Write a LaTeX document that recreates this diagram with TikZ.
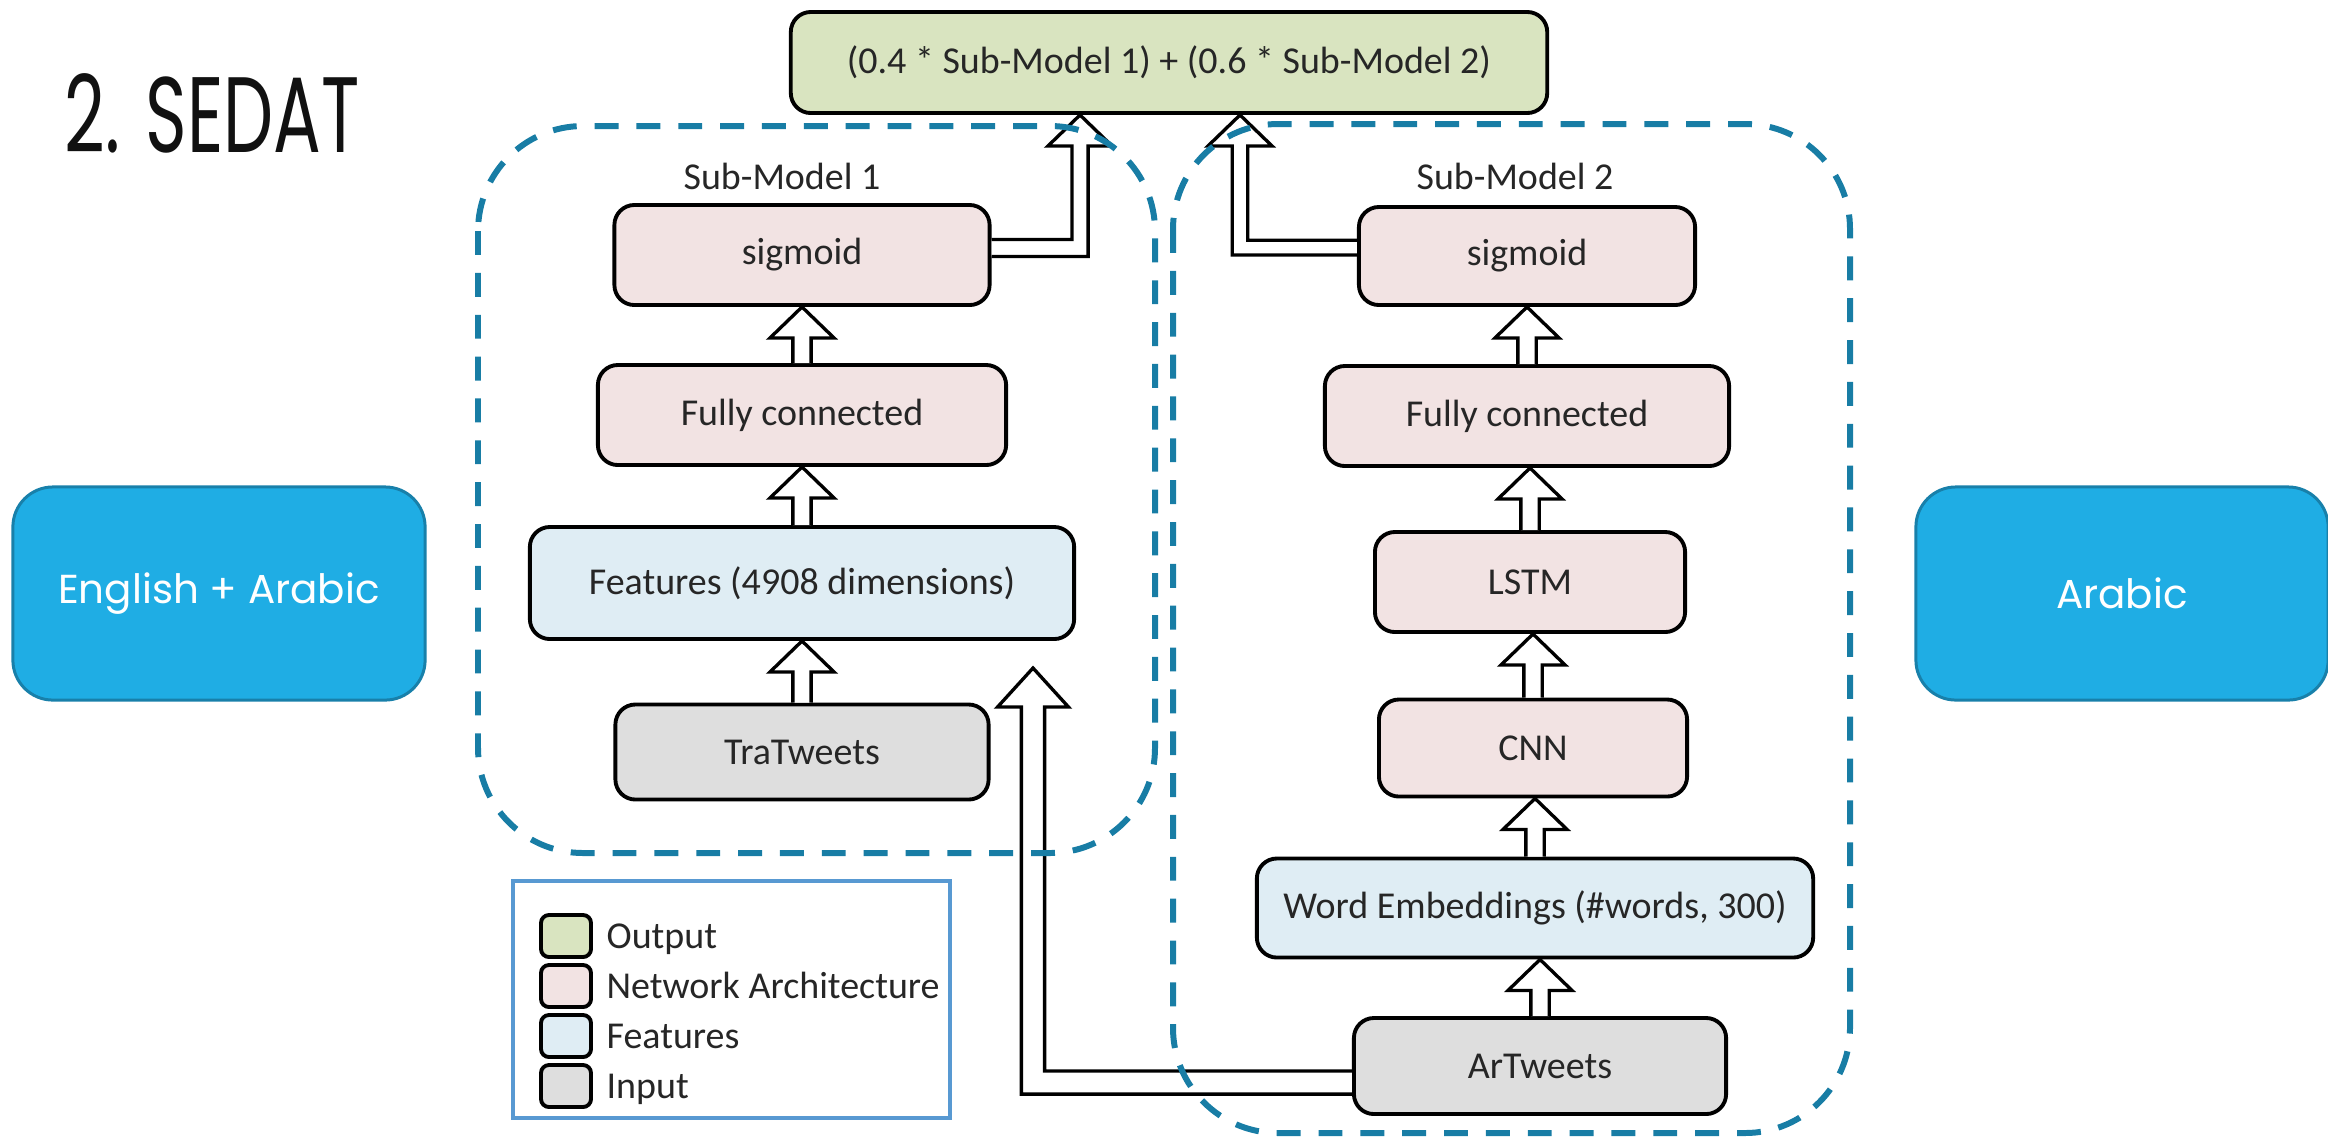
\documentclass[tikz,border=0pt]{standalone}
\usepackage{fontspec}
\setmainfont{Carlito}
\newfontfamily\slidefont{Poppins}
\usetikzlibrary{calc}
\definecolor{outgreen}{RGB}{217, 228, 192}
\definecolor{netpink}{RGB}{242, 227, 227}
\definecolor{featblue}{RGB}{223, 237, 244}
\definecolor{ingray}{RGB}{222, 222, 222}
\definecolor{dashblue}{RGB}{24, 125, 165}
\definecolor{slideblue}{RGB}{31, 173, 228}
\definecolor{slideedge}{RGB}{24, 128, 170}
\definecolor{legendblue}{RGB}{88, 153, 210}
\definecolor{inkgray}{RGB}{38, 38, 38}

\tikzset{
  block/.style={draw=black, line width=1.1pt, rounded corners=0.2cm, inner sep=0pt,
                text=inkgray, font=\fontsize{10.8}{13}\selectfont},
  hollow/.style={draw=black, fill=white, line width=0.95pt, line join=miter},
  subframe/.style={draw=dashblue, line width=1.7pt, dash pattern=on 6.8pt off 5.1pt,
                   rounded corners=1.05cm},
  langbox/.style={draw=slideedge, fill=slideblue, line width=0.85pt, rounded corners=0.4cm,
                  inner sep=0pt, text=white, font=\slidefont\fontsize{11.5}{14}\selectfont,
                  minimum width=4.12cm, minimum height=2.13cm},
  keybox/.style={draw=black, line width=1.1pt, rounded corners=0.08cm, inner sep=0pt,
                 minimum width=0.5cm, minimum height=0.42cm},
}

% hollow block arrow from the top of #1 up to the bottom of #2
\newcommand{\uparr}[2]{%
  \filldraw[hollow] let \p1=(#1.north), \p2=(#2.south) in
    (\x1-2.6pt,\y1) -- (\x1-2.6pt,\y2-8.8pt) -- (\x1-9.1pt,\y2-8.8pt) -- (\x1,\y2)
    -- (\x1+9.1pt,\y2-8.8pt) -- (\x1+2.6pt,\y2-8.8pt) -- (\x1+2.6pt,\y1);}

\begin{document}
\begin{tikzpicture}[x=0.01cm, y=-0.01cm]
  \useasboundingbox (0,0) rectangle (2328,1138);

  % title and side boxes
  \node[anchor=base west, text={rgb,255:red,17;green,17;blue,17},
        font=\slidefont\fontsize{30.5}{36}\selectfont, inner sep=0pt] (title) at (64,152)
        {\scalebox{0.66}[1]{2. SEDAT}};
  \node[langbox] (en) at (219,593.5) {English + Arabic};
  \node[langbox] (ar) at (2122,593.5) {Arabic};

  % output
  \node[block, fill=outgreen, minimum width=7.56cm, minimum height=1.01cm] (out) at (1169,62.5)
        {(0.4 * Sub-Model 1) + (0.6 * Sub-Model 2)};

  % sub-model 1
  \node[block, fill=netpink,  minimum width=3.75cm, minimum height=1.00cm] (sig1) at (802,255)  {sigmoid};
  \node[block, fill=netpink,  minimum width=4.08cm, minimum height=1.00cm] (fc1)  at (802,415)  {Fully connected};
  \node[block, fill=featblue, minimum width=5.44cm, minimum height=1.12cm] (feat) at (802,583)  {Features (4908 dimensions)};
  \node[block, fill=ingray,   minimum width=3.73cm, minimum height=0.95cm] (tra)  at (802,752)  {TraTweets};

  % sub-model 2
  \node[block, fill=netpink,  minimum width=3.36cm, minimum height=0.98cm] (sig2) at (1527,256)  {sigmoid};
  \node[block, fill=netpink,  minimum width=4.04cm, minimum height=1.00cm] (fc2)  at (1527,416)  {Fully connected};
  \node[block, fill=netpink,  minimum width=3.10cm, minimum height=1.00cm] (lstm) at (1530,582)  {LSTM};
  \node[block, fill=netpink,  minimum width=3.08cm, minimum height=0.97cm] (cnn)  at (1533,748)  {CNN};
  \node[block, fill=featblue, minimum width=5.56cm, minimum height=0.99cm] (we)   at (1535,908)  {Word Embeddings (\#words, 300)};
  \node[block, fill=ingray,   minimum width=3.72cm, minimum height=0.96cm] (art)  at (1540,1066) {ArTweets};

  % straight arrows
  \foreach \a/\b in {tra/feat, feat/fc1, fc1/sig1, art/we, we/cnn, cnn/lstm, lstm/fc2, fc2/sig2}
    {\uparr{\a}{\b}}

  % elbow arrows into the output
  \coordinate (in1) at (1080,0 |- out.south);
  \coordinate (in2) at (1240,0 |- out.south);
  \filldraw[hollow] let \p1=(sig1.east), \p2=(in1) in
    (\x1,\y1+4.4pt) -- (\x2-2.3pt,\y1+4.4pt) -- (\x2-2.3pt,\y2-8.8pt) -- (\x2-9.1pt,\y2-8.8pt)
    -- (\x2,\y2) -- (\x2+9.1pt,\y2-8.8pt) -- (\x2+2.3pt,\y2-8.8pt) -- (\x2+2.3pt,\y1-0.4pt) -- (\x1,\y1-0.4pt);
  \filldraw[hollow] let \p1=(sig2.west), \p2=(in2) in
    (\x1,\y1+4.5pt) -- (\x2+2.2pt,\y1+4.5pt) -- (\x2+2.2pt,\y2-8.8pt) -- (\x2+9.1pt,\y2-8.8pt)
    -- (\x2,\y2) -- (\x2-9.1pt,\y2-8.8pt) -- (\x2-2.2pt,\y2-8.8pt) -- (\x2-2.2pt,\y1+0.3pt) -- (\x1,\y1+0.3pt);

  % ArTweets also feeds sub-model 1
  \coordinate (ftip) at (1033,668);
  \filldraw[hollow] let \p1=(art.west), \p2=(ftip) in
    (\x1,\y1-1.4pt) -- (\x2+3.3pt,\y1-1.4pt) -- (\x2+3.3pt,\y2-11.1pt) -- (\x2+10.1pt,\y2-11.1pt)
    -- (\x2,\y2) -- (\x2-10.1pt,\y2-11.1pt) -- (\x2-3.3pt,\y2-11.1pt) -- (\x2-3.3pt,\y1-8.0pt) -- (\x1,\y1-8.0pt);

  % dashed sub-model frames
  \draw[subframe] (478,126) rectangle (1155,853);
  \draw[subframe] (1173,124) rectangle (1850,1133);
  \node[text=inkgray, font=\fontsize{10.8}{13}\selectfont] (lab1) at (782,176) {Sub-Model 1};
  \node[text=inkgray, font=\fontsize{10.8}{13}\selectfont] (lab2) at (1515,176) {Sub-Model 2};

  % legend
  \node[draw=legendblue, line width=1.1pt, inner sep=0pt, minimum width=4.37cm, minimum height=2.37cm]
        (legend) at (731.5,999.5) {};
  \foreach \txt/\c [count=\i] in {Output/outgreen, Network Architecture/netpink, Features/featblue, Input/ingray}{
    \node[keybox, fill=\c] (key\i) at (566,886+50*\i) {};
    \node[anchor=base west, inner sep=0pt, text=inkgray, font=\fontsize{10.8}{13}\selectfont]
          (keytxt\i) at ($(key\i.east)+(13,12)$) {\txt};
  }
\end{tikzpicture}
\end{document}
